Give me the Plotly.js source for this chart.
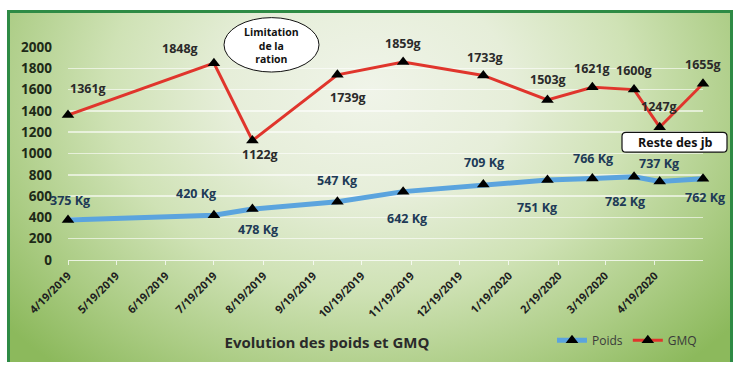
<!DOCTYPE html>
<html>
<head>
<meta charset="utf-8">
<script src="https://cdn.plot.ly/plotly-3.0.1.min.js"></script>
<style>
  html, body { margin: 0; padding: 0; background: #ffffff; }
  #wrap { position: relative; width: 747px; height: 367px; overflow: hidden; }
  #bg {
    position: absolute; left: 7px; top: 10px; width: 726px; height: 352px;
    border-top: 3px solid #2e8b45; border-left: 3px solid #2e8b45; border-right: 3px solid #2e8b45;
    box-sizing: border-box;
    background: radial-gradient(ellipse 66% 105% at 50% 22%, #f0f4e9 0%, #e6eed9 30%, #cfe2b5 55%, #abcc84 80%, #8cb95c 100%);
  }
  #chart { position: absolute; left: 0; top: 0; width: 747px; height: 367px; }
</style>
</head>
<body>
<div id="wrap">
  <div id="bg"></div>
  <div id="chart"></div>
</div>
<script>
// ---- Data ----
const dates = ['2019-04-19', '2019-07-19', '2019-08-12', '2019-10-04', '2019-11-14', '2020-01-03',
               '2020-02-12', '2020-03-11', '2020-04-06', '2020-04-22', '2020-05-19'];
const poids = [375, 420, 478, 547, 642, 709, 751, 766, 782, 737, 762];
const gmq   = [1361, 1848, 1122, 1739, 1859, 1733, 1503, 1621, 1600, 1247, 1655];
const tickDates = ['2019-04-19', '2019-05-19', '2019-06-19', '2019-07-19', '2019-08-19', '2019-09-19',
                   '2019-10-19', '2019-11-19', '2019-12-19', '2020-01-19', '2020-02-19', '2020-03-19', '2020-04-19'];
const tickLabels = ['4/19/2019', '5/19/2019', '6/19/2019', '7/19/2019', '8/19/2019', '9/19/2019',
                    '10/19/2019', '11/19/2019', '12/19/2019', '1/19/2020', '2/19/2020', '3/19/2020', '4/19/2020'];
const yTicks = [0, 200, 400, 600, 800, 1000, 1200, 1400, 1600, 1800, 2000];

// ---- Label offsets (pixels) ----
const gmqOff = [[20, -27], [-34, -15], [8, 14], [11, 23], [0, -19], [2, -18], [1, -20], [0, -19], [0, -19], [-1, -21], [0, -19]];
const poidsOff = [[2, -20], [-18, -22], [6, 20], [0, -21], [4, 27], [1, -22], [-10, 27], [1, -20], [-9, 25], [-1, -18], [2, 19]];

const FONT = '"Open Sans", "DejaVu Sans", sans-serif';

const traces = [
  {
    x: dates, y: poids, name: 'Poids', type: 'scatter', mode: 'lines+markers',
    line: { color: '#5ba4de', width: 5 },
    marker: { symbol: 'triangle-up', size: 11, color: '#000000' },
    cliponaxis: false
  },
  {
    x: dates, y: gmq, name: 'GMQ', type: 'scatter', mode: 'lines+markers',
    line: { color: '#e0352c', width: 3 },
    marker: { symbol: 'triangle-up', size: 11, color: '#000000' },
    cliponaxis: false
  }
];

const annotations = [];
gmq.forEach((v, i) => {
  annotations.push({
    x: dates[i], y: v, xref: 'x', yref: 'y', text: v + 'g', showarrow: false,
    xanchor: 'center', yanchor: 'middle',
    xshift: gmqOff[i][0], yshift: -gmqOff[i][1],
    font: { family: FONT, size: 12.5, color: '#2a2a2a', weight: 'bold' }
  });
});
poids.forEach((v, i) => {
  annotations.push({
    x: dates[i], y: v, xref: 'x', yref: 'y', text: v + ' Kg', showarrow: false,
    xanchor: 'center', yanchor: 'middle',
    xshift: poidsOff[i][0], yshift: -poidsOff[i][1],
    font: { family: FONT, size: 12.5, color: '#203a56', weight: 'bold' }
  });
});

// pixel -> paper helpers for plot area (l=68, r=703, top=46.7, bottom=262)
const PX0 = 68, PX1 = 703, PY0 = 262, PY1 = 46.7;
const px = v => (v - PX0) / (PX1 - PX0);
const py = v => (PY0 - v) / (PY0 - PY1);

annotations.push({
  xref: 'paper', yref: 'paper', x: px(271.5), y: py(45), showarrow: false,
  xanchor: 'center', yanchor: 'middle',
  text: 'Limitation<br>de la<br>ration', align: 'center',
  font: { family: FONT, size: 10.5, color: '#111111', weight: 'bold' }
});
annotations.push({
  xref: 'paper', yref: 'paper', x: px(674.5), y: py(143.5), showarrow: false,
  xanchor: 'center', yanchor: 'middle',
  text: 'Reste des jb',
  font: { family: FONT, size: 12.5, color: '#111111', weight: 'bold' }
});

// rounded rect path
function roundRect(x0, y0, x1, y1, r) {
  const X0 = px(x0), X1 = px(x1), Y0 = py(y0), Y1 = py(y1);
  const rx = r / (PX1 - PX0), ry = r / (PY0 - PY1);
  return `M ${X0 + rx} ${Y0} L ${X1 - rx} ${Y0} Q ${X1} ${Y0} ${X1} ${Y0 - ry} ` +
         `L ${X1} ${Y1 + ry} Q ${X1} ${Y1} ${X1 - rx} ${Y1} L ${X0 + rx} ${Y1} ` +
         `Q ${X0} ${Y1} ${X0} ${Y1 + ry} L ${X0} ${Y0 - ry} Q ${X0} ${Y0} ${X0 + rx} ${Y0} Z`;
}

const shapes = [
  {
    type: 'circle', xref: 'paper', yref: 'paper',
    x0: px(224), x1: px(319), y0: py(72), y1: py(17),
    fillcolor: '#ffffff', line: { color: '#111111', width: 1 }, layer: 'above'
  },
  {
    type: 'path', xref: 'paper', yref: 'paper', path: roundRect(622, 133, 727, 153, 4),
    fillcolor: '#ffffff', line: { color: '#111111', width: 1.2 }, layer: 'above'
  }
];

const layout = {
  width: 747, height: 367,
  margin: { l: 68, r: 44, t: 46.7, b: 105, pad: 0 },
  paper_bgcolor: 'rgba(0,0,0,0)', plot_bgcolor: 'rgba(0,0,0,0)',
  font: { family: FONT },
  showlegend: true,
  legend: {
    orientation: 'h', x: px(552), y: py(343), xanchor: 'left', yanchor: 'middle',
    bgcolor: 'rgba(0,0,0,0)', font: { family: FONT, size: 12, color: '#3a3a3a' },
    itemwidth: 30, tracegroupgap: 0
  },
  title: {
    text: '<b>Evolution des poids et GMQ</b>',
    x: 327 / 747, xref: 'container', xanchor: 'center',
    y: 1 - 343 / 367, yref: 'container', yanchor: 'middle',
    font: { family: FONT, size: 15, color: '#2a2a2a' }
  },
  xaxis: {
    type: 'date', range: ['2019-04-19', '2020-05-19'],
    tickmode: 'array', tickvals: tickDates, ticktext: tickLabels, tickangle: -45,
    tickfont: { family: FONT, size: 11, color: '#1e1e1e', weight: 'bold' },
    showgrid: false, zeroline: false,
    showline: true, linecolor: 'rgba(255,255,255,0.75)', linewidth: 1,
    ticks: 'outside', ticklen: 4, tickcolor: 'rgba(255,255,255,0.75)'
  },
  yaxis: {
    range: [0, 2000], tickmode: 'array', tickvals: yTicks,
    tickfont: { family: FONT, size: 13.5, color: '#1e2a18', weight: 'bold' },
    showgrid: true, gridcolor: 'rgba(255,255,255,0.6)', gridwidth: 1.5,
    zeroline: false, showline: false, ticks: '', ticklabelstandoff: 15
  },
  annotations: annotations,
  shapes: shapes
};

Plotly.newPlot('chart', traces, layout, { displayModeBar: false, staticPlot: true });
</script>
</body>
</html>
